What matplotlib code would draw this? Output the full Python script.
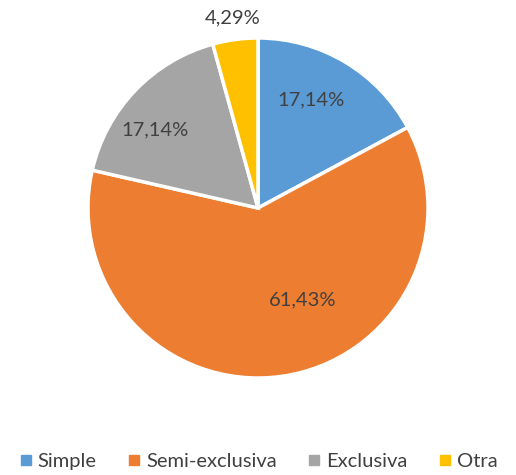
import matplotlib
matplotlib.use("Agg")
import matplotlib.pyplot as plt
from matplotlib.lines import Line2D

categories = ["Simple", "Semi-exclusiva", "Exclusiva", "Otra"]
values = [17.14, 61.43, 17.14, 4.29]
labels = ["17,14%", "61,43%", "17,14%", "4,29%"]
colors = ["#5B9BD5", "#ED7D31", "#A5A5A5", "#FFC000"]

plt.rcParams['font.family'] = ['Lato', 'DejaVu Sans']

W, H = 516, 475
fig = plt.figure(figsize=(W / 100, H / 100), dpi=100)
cx, cy, r = 258, 208, 170
ax = fig.add_axes([(cx - r) / W, (H - cy - r) / H, 2 * r / W, 2 * r / H])
wedges, _ = ax.pie(values, colors=colors, startangle=90, counterclock=False,
                   radius=1.0, wedgeprops=dict(edgecolor="white", linewidth=2.5))
ax.set_xlim(-1.0, 1.0)
ax.set_ylim(-1.0, 1.0)
ax.set_aspect("equal")
ax.axis("off")

label_pos = [(0.31, 0.635), (0.265, -0.54), (-0.606, 0.459), (-0.147, 1.12)]
for lab, (x, y) in zip(labels, label_pos):
    ax.text(x, y, lab, ha="center", va="center", fontsize=14.5, color="#404040")

handles = [Line2D([0], [0], marker="s", linestyle="", markersize=7,
                  markerfacecolor=c, markeredgecolor=c) for c in colors]
fig.legend(handles, categories, loc="center", bbox_to_anchor=(0.5, (H - 461) / H),
           ncol=4, frameon=False, fontsize=14.5, handletextpad=0.25,
           columnspacing=1.5, labelcolor="#404040", handlelength=0.7)

fig.savefig("out.png", dpi=100, facecolor="white")
